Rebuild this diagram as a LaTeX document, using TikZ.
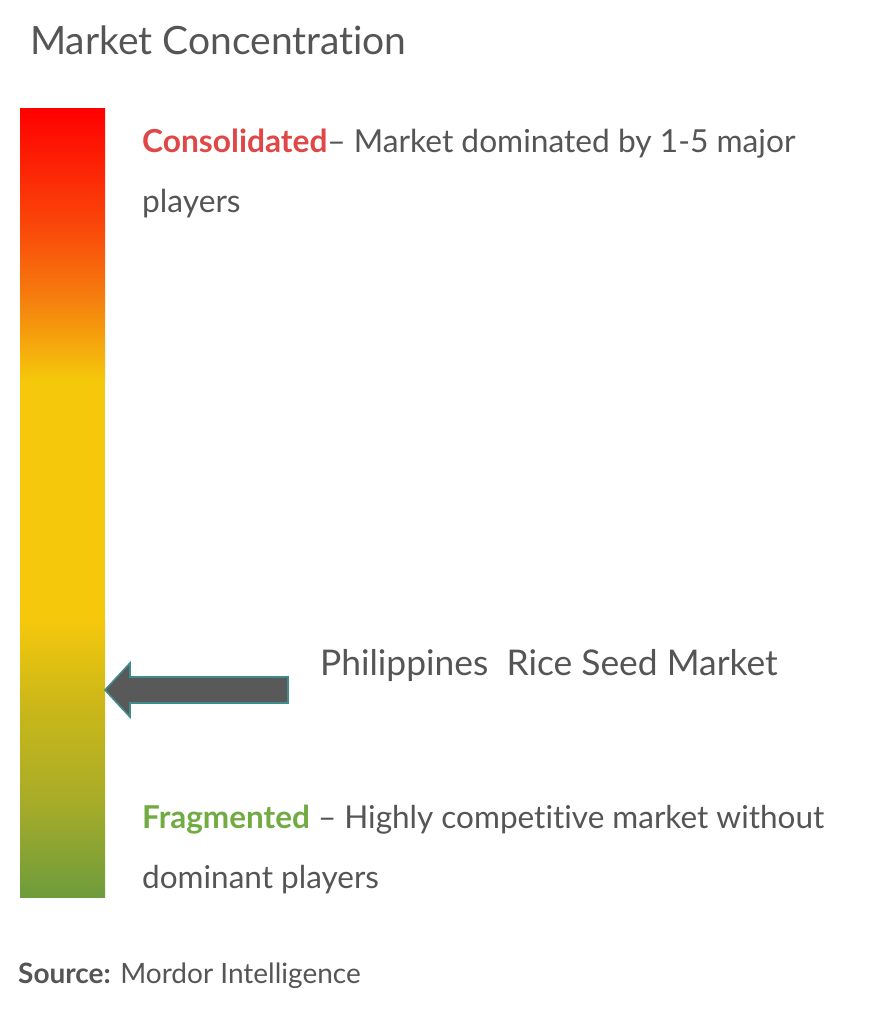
\documentclass[tikz,border=0pt]{standalone}
\usepackage{fontspec}
\setmainfont{Lato}[Ligatures={NoCommon,NoRare}]
\newcommand{\tsep}{t\kern0pt i}
\definecolor{txt}{HTML}{555555}
\definecolor{cons}{HTML}{E04848}
\definecolor{frag}{HTML}{72AB42}
\definecolor{arrfill}{HTML}{595959}
\definecolor{arredge}{HTML}{3E8C8C}
\definecolor{c0}{HTML}{FF0000}
\definecolor{c1}{HTML}{FA4A0A}
\definecolor{c2}{HTML}{F5800E}
\definecolor{c3}{HTML}{F5C80C}
\definecolor{c4}{HTML}{F5C80C}
\definecolor{c5}{HTML}{CDB818}
\definecolor{c6}{HTML}{A8AC28}
\definecolor{c7}{HTML}{6E9C3C}
\tikzset{
  lbl/.style={anchor=base west, inner sep=0pt, text=txt, font=\fontsize{31.5}{31.5}\selectfont},
}
\begin{document}
\begin{tikzpicture}[x=1pt,y=-1pt]
\useasboundingbox[fill=white] (0,0) rectangle (885,1010);
% gradient bar
\shade[top color=c0, bottom color=c1] (20,108) rectangle (105,230.5);
\shade[top color=c1, bottom color=c2] (20,230) rectangle (105,300.5);
\shade[top color=c2, bottom color=c3] (20,300) rectangle (105,380.5);
\fill[c3] (20,380) rectangle (105,620.5);
\shade[top color=c4, bottom color=c5] (20,620) rectangle (105,700.5);
\shade[top color=c5, bottom color=c6] (20,700) rectangle (105,800.5);
\shade[top color=c6, bottom color=c7] (20,800) rectangle (105,897);
\coordinate (bar) at (105,690);
% arrow
\draw[fill=arrfill, draw=arredge, line width=1.6pt, line join=miter]
  (bar) -- (130,663) -- (130,677) -- (288,677) -- (288,703) -- (130,703) -- (130,717) -- cycle;
% texts
\node[lbl, font=\fontsize{39}{39}\selectfont] (title) at (30,54) {Market Concentra\tsep on};
\node[lbl, font=\fontsize{31.7}{31.7}\selectfont] (cons1) at (142,152) {\textcolor{cons}{\textbf{Consolidated}}– Market dominated by 1-5 major};
\node[lbl, font=\fontsize{31.7}{31.7}\selectfont] (cons2) at (142,212) {players};
\node[lbl, font=\fontsize{35.4}{35.4}\selectfont] (mkt) at (320,675) {Philippines\ \ Rice Seed Market};
\node[lbl] (frag1) at (142,828) {\textcolor{frag}{\textbf{Fragmented}} – Highly compe\tsep\tsep ve market without};
\node[lbl] (frag2) at (142,888) {dominant players};
\node[lbl, font=\fontsize{28}{28}\selectfont] (src) at (18,983) {\textbf{Source:} Mordor Intelligence};
\end{tikzpicture}
\end{document}
